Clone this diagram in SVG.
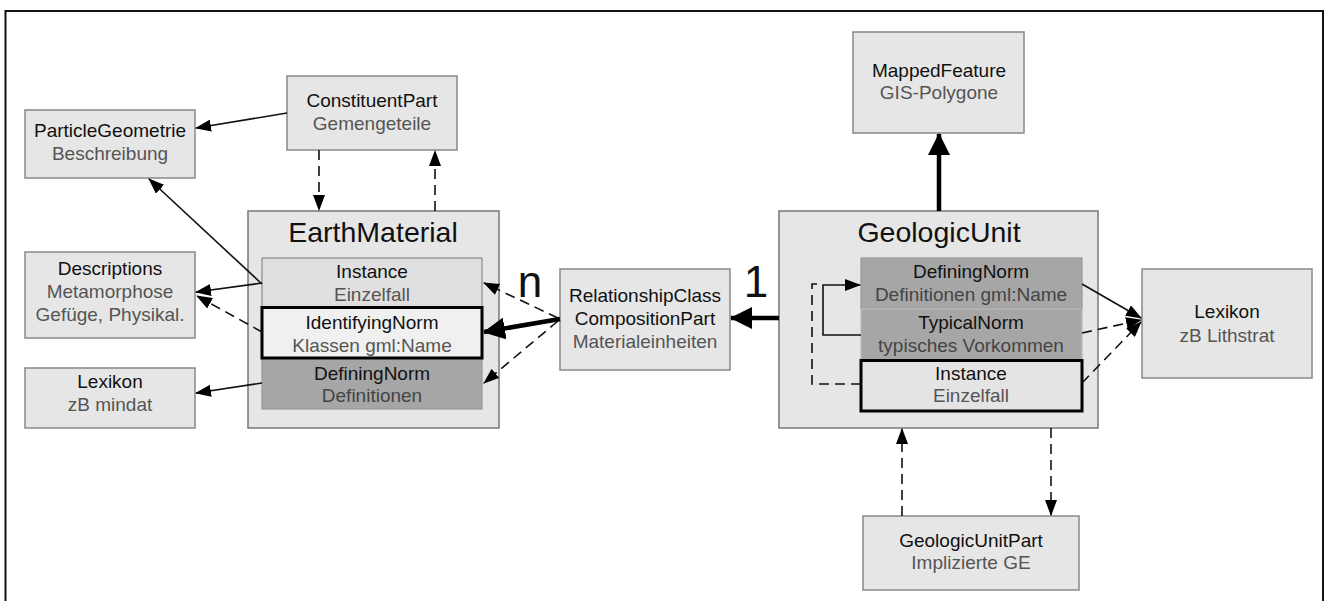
<svg xmlns="http://www.w3.org/2000/svg" width="1329" height="601" viewBox="0 0 1329 601">
<style>
.box{fill:#e6e6e6;stroke:#888;stroke-width:1.5}
.outer{fill:#e6e6e6;stroke:#777;stroke-width:1.5}
.t1{font-family:"Liberation Sans",Arial,sans-serif;font-size:19px;fill:#111;text-anchor:middle}
.t2{font-family:"Liberation Sans",Arial,sans-serif;font-size:19px;fill:#555;text-anchor:middle}
.title{font-family:"Liberation Sans",Arial,sans-serif;font-size:28.5px;fill:#111;text-anchor:middle}
.big{font-family:"Liberation Sans",Arial,sans-serif;font-size:44px;fill:#111;text-anchor:middle}
.ln{fill:none;stroke:#111;stroke-width:1.6}
.dash{fill:none;stroke:#111;stroke-width:1.6;stroke-dasharray:10,6}
.thick{fill:none;stroke:#000;stroke-width:4.5}
</style>
<defs>
<marker id="a" markerUnits="userSpaceOnUse" markerWidth="16" markerHeight="12" refX="15" refY="6" orient="auto"><path d="M0,0 L16,6 L0,12 z" fill="#000"/></marker>
<marker id="b" markerUnits="userSpaceOnUse" markerWidth="22" markerHeight="22" refX="21" refY="11" orient="auto"><path d="M0,0 L22,11 L0,22 z" fill="#000"/></marker>
</defs>
<path d="M5.5,601 V11 H1323 V601" fill="none" stroke="#111" stroke-width="2"/>

<g id="ParticleGeometrie"><rect class="box" x="25" y="110" width="170" height="68"/><text class="t1" x="110" y="137">ParticleGeometrie</text><text class="t2" x="110" y="160">Beschreibung</text></g>
<g id="ConstituentPart"><rect class="box" x="287" y="76" width="170" height="74"/><text class="t1" x="372" y="107">ConstituentPart</text><text class="t2" x="372" y="130">Gemengeteile</text></g>
<g id="Descriptions"><rect class="box" x="25" y="252" width="170" height="86"/><text class="t1" x="110" y="275">Descriptions</text><text class="t2" x="110" y="298">Metamorphose</text><text class="t2" x="110" y="321">Gefüge, Physikal.</text></g>
<g id="LexikonMindat"><rect class="box" x="25" y="368" width="170" height="60"/><text class="t1" x="110" y="388">Lexikon</text><text class="t2" x="110" y="411">zB mindat</text></g>

<g id="EarthMaterial"><rect class="outer" x="248" y="211" width="251" height="217"/><text class="title" x="373" y="242">EarthMaterial</text>
<rect x="262" y="258" width="220" height="49" fill="#e0e0e0" stroke="#888" stroke-width="1.2"/><text class="t1" x="372" y="278">Instance</text><text class="t2" x="372" y="301">Einzelfall</text>
<rect x="262" y="358" width="220" height="51" fill="#a6a6a6" stroke="#999" stroke-width="1.2"/><text class="t1" x="372" y="380">DefiningNorm</text><text class="t2" x="372" y="402" style="fill:#444">Definitionen</text>
<rect x="262" y="307.5" width="220" height="50.5" fill="#f0f0f0" stroke="#000" stroke-width="3"/><text class="t1" x="372" y="329">IdentifyingNorm</text><text class="t2" x="372" y="352">Klassen gml:Name</text></g>

<g id="RelationshipClass"><rect class="box" x="560" y="269" width="170" height="101"/><text class="t1" x="645" y="302">RelationshipClass</text><text class="t1" x="645" y="325">CompositionPart</text><text class="t2" x="645" y="348">Materialeinheiten</text></g>

<g id="MappedFeature"><rect class="box" x="853" y="32" width="171" height="101"/><text class="t1" x="939" y="77">MappedFeature</text><text class="t2" x="939" y="99">GIS-Polygone</text></g>

<g id="GeologicUnit"><rect class="outer" x="779" y="211" width="319" height="217"/><text class="title" x="939" y="242">GeologicUnit</text>
<rect x="861" y="258" width="221" height="51" fill="#a6a6a6" stroke="#999" stroke-width="1.2"/><text class="t1" x="971" y="278">DefiningNorm</text><text class="t2" x="971" y="301" style="fill:#444">Definitionen gml:Name</text>
<rect x="861" y="309" width="221" height="51" fill="#a6a6a6" stroke="#bbb" stroke-width="1.2"/><text class="t1" x="971" y="329">TypicalNorm</text><text class="t2" x="971" y="352" style="fill:#444">typisches Vorkommen</text>
<rect x="861" y="360.5" width="221" height="50.5" fill="#e4e4e4" stroke="#000" stroke-width="3"/><text class="t1" x="971" y="380">Instance</text><text class="t2" x="971" y="402">Einzelfall</text></g>

<g id="LexikonLithstrat"><rect class="box" x="1142" y="269" width="170" height="109"/><text class="t1" x="1227" y="318">Lexikon</text><text class="t2" x="1227" y="342">zB Lithstrat</text></g>
<g id="GeologicUnitPart"><rect class="box" x="863" y="516" width="216" height="74"/><text class="t1" x="971" y="547">GeologicUnitPart</text><text class="t2" x="971" y="569">Implizierte GE</text></g>

<g id="labels"><text class="big" x="530" y="297">n</text><text class="big" x="756" y="297">1</text></g>

<g id="connectors">
<path class="ln" d="M287,113 L196,128" marker-end="url(#a)"/>
<path class="dash" d="M319,150 V210" marker-end="url(#a)"/>
<path class="dash" d="M435,211 V151" marker-end="url(#a)"/>
<path class="ln" d="M262,284 L149,179" marker-end="url(#a)"/>
<path class="ln" d="M262,283 L196,292" marker-end="url(#a)"/>
<path class="dash" d="M262,332 L197,296" marker-end="url(#a)"/>
<path class="ln" d="M262,383 L196,393" marker-end="url(#a)"/>
<path class="thick" d="M560,319 L484,332" marker-end="url(#b)"/>
<path class="dash" d="M558,318 L484,283" marker-end="url(#a)"/>
<path class="dash" d="M558,321 L484,383" marker-end="url(#a)"/>
<path class="thick" d="M779,318 L731,318" marker-end="url(#b)"/>
<path class="thick" d="M939,211 V134" marker-end="url(#b)"/>
<path class="ln" d="M861,335 H823 V285 H860" marker-end="url(#a)"/>
<path class="dash" d="M861,384 H812 V284 H818"/>
<path class="ln" d="M1082,284 L1141,318" marker-end="url(#a)"/>
<path class="dash" d="M1082,333 L1141,320" marker-end="url(#a)"/>
<path class="dash" d="M1082,383 L1141,322" marker-end="url(#a)"/>
<path class="dash" d="M902,516 V429" marker-end="url(#a)"/>
<path class="dash" d="M1051,428 V515" marker-end="url(#a)"/>
</g>
</svg>
